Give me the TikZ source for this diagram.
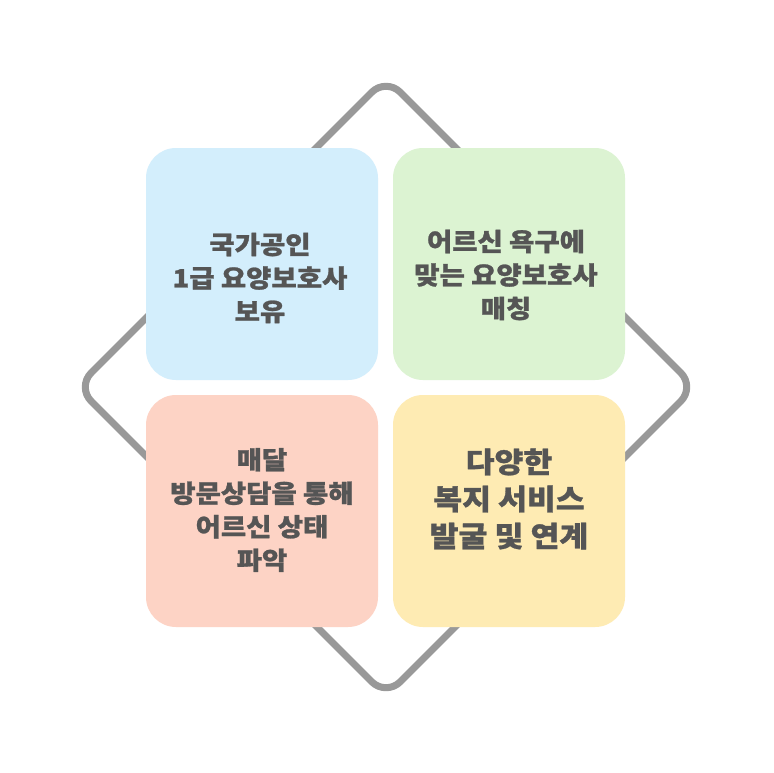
\documentclass[tikz,border=0pt]{standalone}
\usepackage{fontspec}
\newfontfamily\krfont{Noto Sans CJK KR}[FakeStretch=1.1, BoldFeatures={FakeBold=1}]
\definecolor{cblue}{HTML}{D3EEFC}
\definecolor{cgreen}{HTML}{DCF3D2}
\definecolor{cpink}{HTML}{FDD3C5}
\definecolor{cyellow}{HTML}{FEEBB3}
\definecolor{txtc}{HTML}{555555}
\definecolor{diamc}{HTML}{999999}
\tikzset{
  diam/.style={draw=diamc, line width=7pt, rounded corners=20pt, line join=round},
  box/.style={draw=none, rounded corners=30pt, minimum width=232pt, minimum height=232pt, inner sep=0pt},
  lbl/.style={text=txtc, align=center, inner sep=0pt, font=\krfont\bfseries\fontsize{25}{33.5}\selectfont},
  lblbig/.style={lbl, font=\krfont\bfseries\fontsize{28.5}{37}\selectfont}
}
\begin{document}
\begin{tikzpicture}[x=1pt,y=-1pt]
\useasboundingbox[fill=white] (0,0) rectangle (773,773);
\coordinate (dt) at (386,78);
\coordinate (dr) at (695,387);
\coordinate (db) at (386,696);
\coordinate (dl) at (77,387);
\draw[diam] (dt) -- (dr) -- (db) -- (dl) -- cycle;
\node[box, fill=cblue] (b1) at (262,264) {};
\node[box, fill=cgreen] (b2) at (509,264) {};
\node[box, fill=cpink] (b3) at (262,511) {};
\node[box, fill=cyellow] (b4) at (509,511) {};
\node[lbl] (t1) at (260,278) {국가공인\\1급 요양보호사\\보유};
\node[lbl] (t2) at (506,275) {어르신 욕구에\\맞는 요양보호사\\매칭};
\node[lbl] (t3) at (262,510) {매달\\방문상담을 통해\\어르신 상태\\파악};
\node[lblbig] (t4) at (509,499) {다양한\\복지 서비스\\발굴 및 연계};
\end{tikzpicture}
\end{document}
